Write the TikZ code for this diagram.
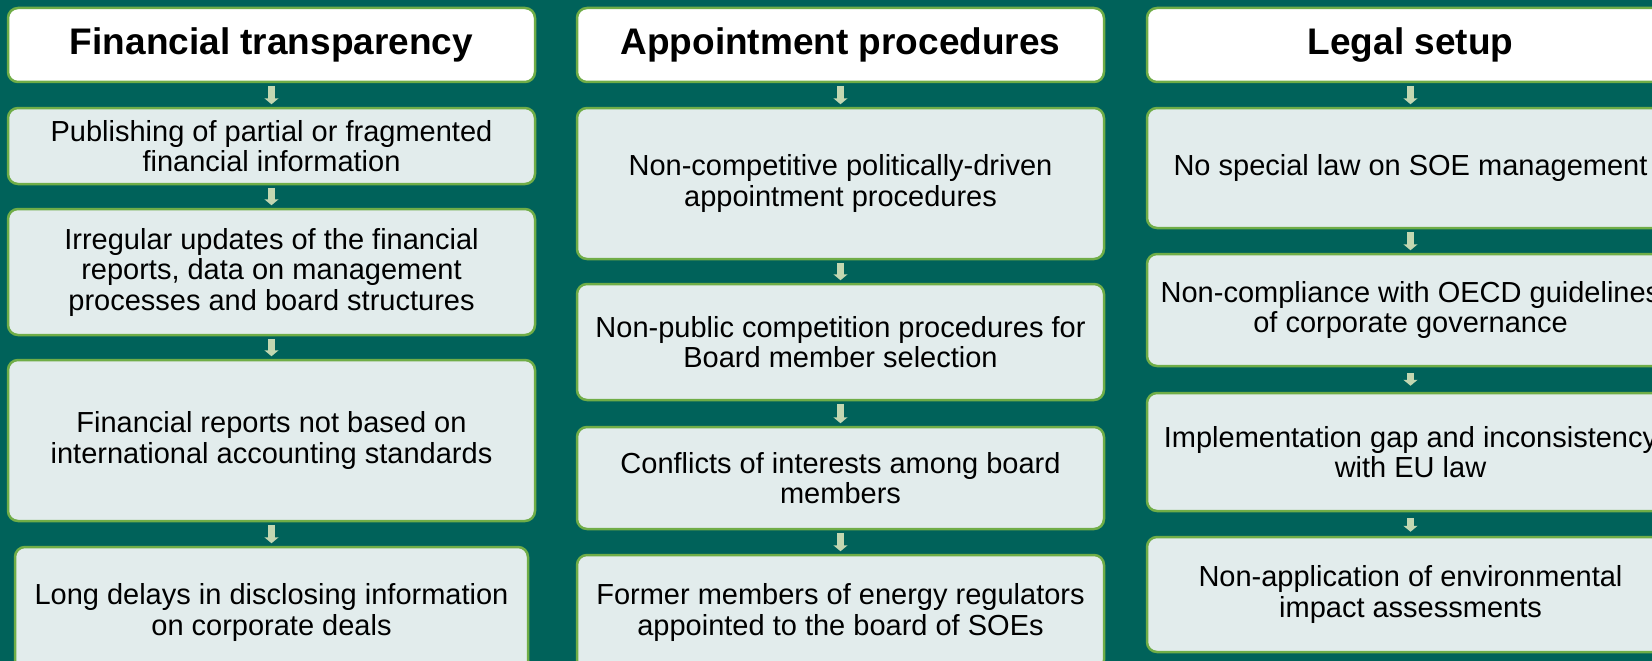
\documentclass[tikz,border=0pt]{standalone}
\usepackage{fontspec}
\setmainfont{Liberation Sans}
\usetikzlibrary{arrows.meta}
\definecolor{bgteal}{HTML}{00625A}
\definecolor{boxgreen}{HTML}{70AD47}
\definecolor{boxfill}{HTML}{E2ECEC}
\definecolor{arrowgreen}{HTML}{C3D7B1}
\tikzset{
	item/.style={draw=boxgreen, line width=2.5pt, rounded corners=10pt, fill=boxfill,
		align=center, inner sep=2pt, minimum width=527pt,
		font=\fontsize{29}{30.5}\selectfont},
	head/.style={item, fill=white, minimum height=74pt,
		font=\fontsize{37}{40}\selectfont\bfseries},
	flow/.style={draw=arrowgreen, line width=7pt, -{Triangle[length=6pt,width=14pt]},
		shorten <=2.5pt, shorten >=2.5pt}
}

\begin{document}
\begin{tikzpicture}[x=1pt, y=-1pt]
	\useasboundingbox (0,0) rectangle (1652,661);
	\fill[bgteal] (0,0) rectangle (1652,661);

	% financial transparency
	\node[head] (f0) at (271.5, 45) {Financial transparency};
	\node[item, minimum height=76pt] (f1) at (271.5, 146) {Publishing of partial or fragmented\\financial information};
	\node[item, minimum height=126pt] (f2) at (271.5, 272) {Irregular updates of the financial\\reports, data on management\\processes and board structures};
	\node[item, minimum height=161pt] (f3) at (271.5, 440.5) {Financial reports not based on\\international accounting standards};
	\node[item, minimum height=131pt, minimum width=513pt] (f4) at (271.5, 612.5) {Long delays in disclosing information\\on corporate deals};

	% appointment procedures
	\node[head] (p0) at (840.5, 45) {Appointment procedures};
	\node[item, minimum height=151pt] (p1) at (840.5, 183.5) {Non-competitive politically-driven\\appointment procedures};
	\node[item, minimum height=116pt] (p2) at (840.5, 342) {Non-public competition procedures for\\Board member selection};
	\node[item, minimum height=102pt] (p3) at (840.5, 478) {Conflicts of interests among board\\members};
	\node[item, minimum height=115pt] (p4) at (840.5, 612.5) {Former members of energy regulators\\appointed to the board of SOEs};

	% legal setup
	\node[head] (l0) at (1410.5, 45) {Legal setup};
	\node[item, minimum height=120pt] (l1) at (1410.5, 168) {No special law on SOE management};
	\node[item, minimum height=112pt] (l2) at (1410.5, 310) {Non-compliance with OECD guidelines\\of corporate governance};
	\node[item, minimum height=118pt] (l3) at (1410.5, 452) {Implementation gap and inconsistency\\with EU law};
	\node[item, minimum height=115pt] (l4) at (1410.5, 594.5) {Non-application of environmental\\impact assessments};

	\draw[flow] (f0) -- (f1);
	\draw[flow] (f1) -- (f2);
	\draw[flow] (f2) -- (f3);
	\draw[flow] (f3) -- (f4);

	\draw[flow] (p0) -- (p1);
	\draw[flow] (p1) -- (p2);
	\draw[flow] (p2) -- (p3);
	\draw[flow] (p3) -- (p4);

	\draw[flow] (l0) -- (l1);
	\draw[flow] (l1) -- (l2);
	\draw[flow, shorten <=6pt, shorten >=6pt] (l2) -- (l3);
	\draw[flow, shorten <=6pt, shorten >=4pt] (l3) -- (l4);
\end{tikzpicture}
\end{document}
